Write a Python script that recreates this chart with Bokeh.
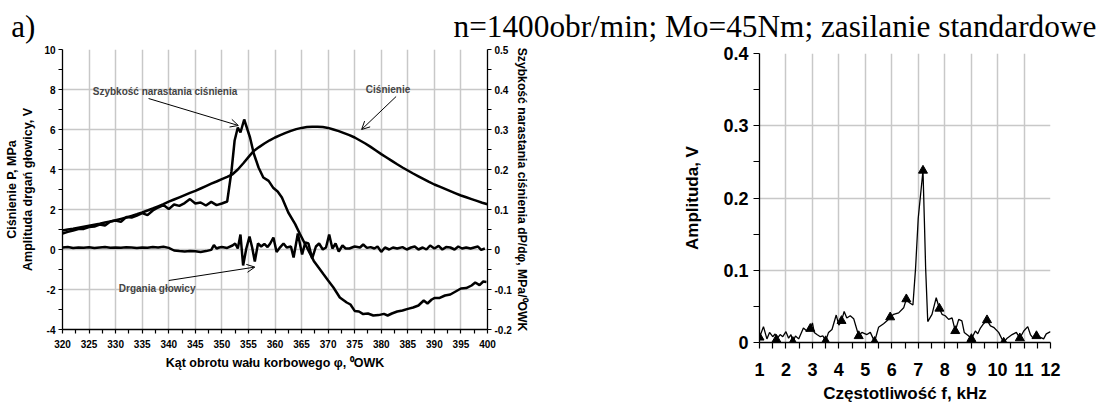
from bokeh.plotting import figure
from bokeh.models import (Range1d, LinearAxis, FixedTicker, CustomJSTickFormatter,
                          Label, Arrow, OpenHead, ColumnDataSource)
from bokeh.layouts import column, row
from bokeh.embed import file_html
from bokeh.resources import INLINE

# ---------------- data: left chart ----------------
angle_p = list(range(320, 401))
pressure = [0.95, 1.00, 1.04, 1.09, 1.14, 1.19, 1.24, 1.29, 1.35, 1.40,
            1.46, 1.53, 1.60, 1.68, 1.76, 1.85, 1.95, 2.05, 2.16, 2.27,
            2.39, 2.50, 2.61, 2.72, 2.83, 2.93, 3.05, 3.17, 3.29, 3.40,
            3.52, 3.63, 3.76, 4.00, 4.30, 4.62, 4.93, 5.12, 5.30, 5.46,
            5.60, 5.72, 5.83, 5.93, 6.02, 6.08, 6.12, 6.14, 6.14, 6.12,
            6.08, 6.00, 5.92, 5.82, 5.72, 5.60, 5.45, 5.30, 5.13, 4.95,
            4.77, 4.60, 4.43, 4.26, 4.10, 3.95, 3.80, 3.66, 3.52, 3.38,
            3.25, 3.14, 3.03, 2.92, 2.81, 2.70, 2.61, 2.52, 2.43, 2.34, 2.26]

rate_angle = [320, 321, 322, 323, 324, 325, 326, 327, 328, 329,
              330, 331, 332, 333, 334, 335, 336, 337, 338, 339,
              340, 341, 342, 343, 344, 345, 346, 347, 348, 349,
              350, 351, 351.8, 352.4, 353.0, 353.5, 354.2, 355.3, 356.0, 356.9,
              357.8, 358.8, 359.7, 360.5, 361.3, 362.5, 363.8, 364.7, 366.0, 367.3,
              368.2, 369.1, 370.0, 371.0, 372.2, 373.5, 374.2, 375.0, 375.8, 376.6,
              377.5, 378.5, 379.5, 380.5, 381.2, 382.0, 383.0, 384.0, 385.0, 386.0,
              387.0, 388.0, 388.7, 389.5, 390.0, 391.0, 392.0, 393.0, 394.0, 395.0,
              396.0, 397.0, 397.7, 398.5, 399.2, 399.8]
rate = [0.040, 0.044, 0.0475, 0.051, 0.0515, 0.056, 0.0575, 0.0625, 0.060, 0.070,
        0.0725, 0.069, 0.081, 0.080, 0.085, 0.091, 0.086, 0.0975, 0.105, 0.111,
        0.101, 0.1125, 0.109, 0.116, 0.126, 0.115, 0.1175, 0.110, 0.119, 0.111,
        0.115, 0.120, 0.195, 0.2725, 0.305, 0.2925, 0.325, 0.280, 0.240, 0.205,
        0.180, 0.1715, 0.1535, 0.145, 0.130, 0.0925, 0.0635, 0.0385, 0.005, -0.0285,
        -0.045, -0.0615, -0.0775, -0.095, -0.120, -0.1325, -0.1375, -0.1535, -0.155, -0.1615,
        -0.160, -0.165, -0.164, -0.161, -0.165, -0.160, -0.155, -0.1525, -0.1485, -0.145,
        -0.140, -0.1275, -0.135, -0.125, -0.1215, -0.121, -0.115, -0.1125, -0.105, -0.0975,
        -0.0965, -0.090, -0.0825, -0.089, -0.080, -0.081]

vib_angle = [320, 321, 322, 323, 324, 325, 326, 327, 328, 329,
             330, 331, 332, 333, 334, 335, 336, 337, 338, 339,
             340, 341, 342, 343, 344, 345, 346, 347, 348, 348.5,
             349, 349.5, 350, 351, 352, 352.5, 353, 353.5, 354, 354.6,
             355.2, 355.7, 356.2, 356.8, 357.4, 358, 358.6, 359.1, 359.7, 360.3,
             361, 361.6, 362.2, 363, 363.5, 364.3, 365.1, 365.7, 366.3, 367,
             367.7, 368.3, 369, 369.6, 370.2, 370.8, 371.4, 372, 372.7, 373.3,
             374, 375, 376, 376.6, 377.3, 378, 378.7, 379.3, 380, 380.7,
             381.5, 382.2, 383, 384, 384.8, 385.6, 386.3, 387, 387.8, 388.5,
             389.2, 390, 390.8, 391.5, 392.2, 393, 393.8, 394.5, 395.2, 396,
             396.8, 397.5, 398.2, 398.8, 399.5]
vib = [0.10, 0.12, 0.08, 0.10, 0.09, 0.11, 0.08, 0.10, 0.12, 0.09,
       0.10, 0.09, 0.11, 0.10, 0.08, 0.10, 0.09, 0.12, 0.10, 0.14,
       0.08, -0.05, -0.08, -0.10, -0.07, -0.09, -0.12, -0.08, -0.02, 0.22,
       0.05, 0.10, 0.12, 0.08, 0.20, 0.30, 0.05, 0.75, -0.80, 0.05,
       0.65, 0.10, -0.60, 0.30, 0.15, 0.28, 0.12, 0.30, 0.60, -0.12,
       0.12, 0.30, 0.10, 0.15, -0.40, 0.80, -0.25, 0.35, 0.30, -0.45,
       0.15, 0.30, 0.00, 0.10, 0.75, 0.05, 0.30, -0.10, 0.20, 0.05,
       0.05, 0.15, 0.10, 0.25, 0.08, 0.12, 0.05, 0.15, -0.12, 0.10,
       0.00, 0.10, 0.05, 0.12, 0.00, 0.10, 0.15, 0.00, 0.10, 0.00,
       0.20, 0.05, 0.18, 0.00, 0.12, 0.10, 0.00, 0.15, 0.05, 0.10,
       0.05, 0.10, 0.15, -0.02, 0.05]

# ---------------- data: right chart (spectrum) ----------------
freq = [1.00, 1.15, 1.28, 1.38, 1.50, 1.59, 1.64, 1.78, 1.88, 2.00,
        2.10, 2.19, 2.26, 2.36, 2.48, 2.66, 2.79, 2.92, 3.00, 3.07,
        3.17, 3.30, 3.40, 3.50, 3.61, 3.74, 3.90, 4.00, 4.10, 4.20,
        4.30, 4.43, 4.56, 4.68, 4.75, 4.87, 5.06, 5.19, 5.35, 5.50,
        5.69, 5.82, 5.94, 6.07, 6.26, 6.45, 6.55, 6.67, 6.80, 6.90,
        7.00, 7.18, 7.23, 7.28, 7.36, 7.52, 7.68, 7.80, 7.90, 8.02,
        8.15, 8.28, 8.40, 8.53, 8.65, 8.74, 8.91, 9.01, 9.16, 9.25,
        9.35, 9.47, 9.60, 9.73, 9.85, 10.04, 10.23, 10.36, 10.55, 10.71,
        10.84, 10.99, 11.14, 11.24, 11.34, 11.47, 11.62, 11.74, 11.84, 12.00]
amp = [0.007, 0.022, 0.005, 0.014, 0.008, 0.012, 0.004, 0.011, 0.008, 0.015,
       0.006, 0.011, 0.001, 0.009, 0.005, 0.020, 0.016, 0.019, 0.027, 0.014,
       0.011, 0.008, 0.009, 0.002, 0.014, 0.018, 0.038, 0.024, 0.030, 0.043,
       0.034, 0.037, 0.033, 0.018, 0.009, 0.014, 0.011, 0.014, 0.001, 0.021,
       0.026, 0.030, 0.035, 0.039, 0.041, 0.048, 0.060, 0.055, 0.052, 0.103,
       0.172, 0.238, 0.172, 0.103, 0.029, 0.039, 0.062, 0.047, 0.039, 0.037,
       0.032, 0.034, 0.016, 0.032, 0.030, 0.014, 0.009, 0.005, 0.016, 0.012,
       0.020, 0.026, 0.031, 0.023, 0.021, 0.014, 0.000, 0.006, 0.011, 0.014,
       0.006, 0.016, 0.022, 0.011, 0.006, 0.009, 0.007, 0.005, 0.012, 0.015]
tri_freq = [1.00, 1.64, 2.26, 2.92, 3.50, 4.10, 4.75, 5.35, 5.94, 6.55,
            7.18, 7.80, 8.40, 9.01, 9.60, 10.23, 10.84, 11.47]

# ticks
x_ticks_left = list(range(320, 401, 5))
x_minor_left = [t + 2.5 for t in range(320, 400, 5)]
y_ticks_left = list(range(-4, 11, 2))
y_minor_left = list(range(-3, 10, 2))
y_ticks_right = [-0.2, -0.1, 0.0, 0.1, 0.2, 0.3, 0.4, 0.5]
y_minor_right = [-0.15, -0.05, 0.05, 0.15, 0.25, 0.35, 0.45]
f_ticks = list(range(1, 13))
f_minor = [f + 0.5 for f in range(1, 12)]
a_ticks = [0.0, 0.1, 0.2, 0.3, 0.4]
a_minor = [0.05, 0.15, 0.25, 0.35]

SANS = "Liberation Sans"
SERIF = "Liberation Serif"
GRID = "#c8c8c8"

dec_fmt = CustomJSTickFormatter(code="return Math.abs(tick) < 1e-9 ? '0' : tick.toFixed(1);")
int_fmt = CustomJSTickFormatter(code="return Math.round(tick).toString();")


def style_axis(ax, size, tick_out):
    ax.major_label_text_font = SANS
    ax.major_label_text_font_style = "bold"
    ax.major_label_text_font_size = size
    ax.major_label_text_color = "black"
    ax.axis_line_color = "black"
    ax.axis_line_width = 1.3
    ax.major_tick_line_color = "black"
    ax.minor_tick_line_color = "black"
    ax.major_tick_line_width = 1.2
    ax.minor_tick_line_width = 1.2
    ax.major_tick_in = 0
    ax.minor_tick_in = 0
    ax.major_tick_out = tick_out
    ax.minor_tick_out = tick_out
    ax.axis_label_text_font = SANS
    ax.axis_label_text_font_style = "bold"
    ax.axis_label_text_color = "black"


TOTAL_W = 1112
TITLE_H = 44
ROW_H = 361
LEFT_W = 568

# ---------------- title strip ----------------
pt = figure(width=TOTAL_W, height=TITLE_H, x_range=Range1d(0, TOTAL_W), y_range=Range1d(0, TITLE_H),
            output_backend="svg", toolbar_location=None, min_border=0,
            x_axis_location=None, y_axis_location=None)
pt.grid.visible = False
pt.outline_line_color = None
pt.add_layout(Label(x=10.7, y=18.5, text="a)", text_font=SERIF, text_font_size="31px",
                    text_baseline="middle", text_color="black"))
pt.add_layout(Label(x=453, y=18.5, text="n=1400obr/min; Mo=45Nm; zasilanie standardowe",
                    text_font=SERIF, text_font_size="31.3px",
                    text_baseline="middle", text_color="black"))

# ---------------- left chart ----------------
p1 = figure(width=LEFT_W, height=ROW_H, x_range=Range1d(320, 400), y_range=Range1d(-4, 10),
            output_backend="svg", toolbar_location=None,
            min_border_left=62, min_border_right=81, min_border_top=5, min_border_bottom=76)
p1.extra_y_ranges = {"right": Range1d(-0.2, 0.5)}
p1.outline_line_color = None

p1.xaxis.ticker = FixedTicker(ticks=x_ticks_left, minor_ticks=x_minor_left)
p1.yaxis.ticker = FixedTicker(ticks=y_ticks_left, minor_ticks=y_minor_left)
p1.yaxis.formatter = int_fmt
p1.xaxis.formatter = int_fmt
for ax in p1.xaxis + p1.yaxis:
    style_axis(ax, "10px", 4)
p1.xaxis.major_label_standoff = 6
p1.yaxis.major_label_standoff = 3
p1.xaxis.axis_label = "Kąt obrotu wału korbowego φ, ⁰OWK"
p1.xaxis.axis_label_text_font_size = "12.5px"
p1.xaxis.axis_label_standoff = 5
p1.yaxis.axis_label = "Ciśnienie P, MPa\nAmplituda drgań głowicy, V"
p1.yaxis.axis_label_text_font_size = "12.5px"
p1.yaxis.axis_label_standoff = 6

ax_r = LinearAxis(y_range_name="right", ticker=FixedTicker(ticks=y_ticks_right, minor_ticks=y_minor_right),
                  formatter=dec_fmt,
                  axis_label="Szybkość narastania ciśnienia dP/dφ, MPa/⁰OWK")
style_axis(ax_r, "10px", 4)
ax_r.major_label_standoff = 3
ax_r.axis_label_text_font_size = "12.2px"
ax_r.axis_label_standoff = 0
p1.add_layout(ax_r, "right")

p1.xgrid.grid_line_color = GRID
p1.ygrid.grid_line_color = GRID
p1.xgrid.grid_line_width = 1.5
p1.ygrid.grid_line_width = 1.5

p1.line(angle_p, pressure, line_color="black", line_width=2.5)
p1.line(rate_angle, rate, y_range_name="right", line_color="black", line_width=2.5)
p1.line(vib_angle, vib, line_color="black", line_width=2.5)

# annotations
for (tx, ty, txt) in [(325.7, 7.9, "Szybkość narastania ciśnienia"),
                      (377.1, 8.0, "Ciśnienie"),
                      (330.6, -1.93, "Drgania głowicy")]:
    p1.add_layout(Label(x=tx, y=ty, text=txt, text_font=SANS, text_font_style="bold",
                        text_font_size="10px", text_baseline="middle", text_align="left"))
for (x0, y0, x1, y1) in [(336.2, 7.55, 353.1, 6.2),
                         (382.8, 7.65, 376.3, 6.0),
                         (340.0, -1.55, 356.2, -0.88)]:
    p1.add_layout(Arrow(end=OpenHead(size=8, line_width=1, line_color="black"),
                        x_start=x0, y_start=y0, x_end=x1, y_end=y1,
                        line_width=1, line_color="black"))

# ---------------- right chart ----------------
p2 = figure(width=TOTAL_W - LEFT_W, height=ROW_H, x_range=Range1d(1, 12), y_range=Range1d(0, 0.4),
            output_backend="svg", toolbar_location=None,
            min_border_left=191, min_border_right=62, min_border_top=9, min_border_bottom=60)
p2.outline_line_color = None
p2.xaxis.ticker = FixedTicker(ticks=f_ticks, minor_ticks=f_minor)
p2.yaxis.ticker = FixedTicker(ticks=a_ticks, minor_ticks=a_minor)
p2.xaxis.formatter = int_fmt
p2.yaxis.formatter = dec_fmt
for ax in p2.xaxis + p2.yaxis:
    style_axis(ax, "18px", 6)
p2.xaxis.major_label_standoff = 14
p2.yaxis.major_label_standoff = 5
p2.xaxis.axis_label = "Częstotliwość f, kHz"
p2.yaxis.axis_label = "Amplituda, V"
p2.xaxis.axis_label_text_font_size = "17px"
p2.yaxis.axis_label_text_font_size = "17px"
p2.xaxis.axis_label_standoff = 5
p2.yaxis.axis_label_standoff = 18
p2.xgrid.grid_line_color = GRID
p2.ygrid.grid_line_color = GRID
p2.xgrid.grid_line_width = 1.5
p2.ygrid.grid_line_width = 1.5

p2.line(freq, amp, line_color="black", line_width=1.3)
idx = [i for i, f in enumerate(freq) if f in tri_freq]
src_tri = ColumnDataSource(dict(f=[freq[i] for i in idx], a=[amp[i] for i in idx]))
p2.scatter("f", "a", source=src_tri, marker="triangle", size=9, color="black")

layout = column(pt, row(column(p1), column(p2)))
open("out.html", "w").write(file_html(layout, INLINE))
